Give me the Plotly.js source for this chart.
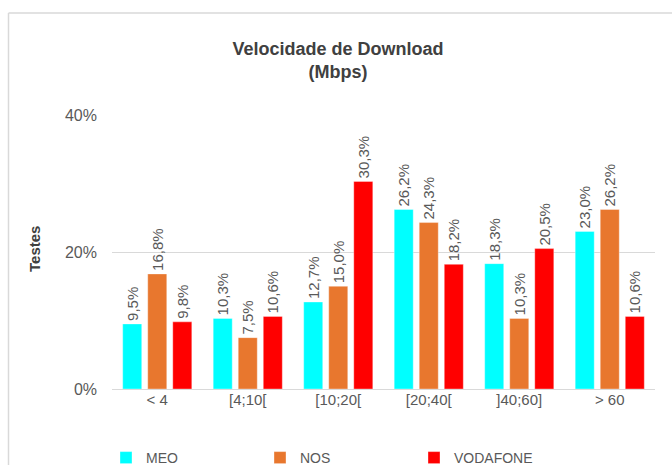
<!DOCTYPE html>
<html>
<head>
<meta charset="utf-8">
<script src="https://cdn.plot.ly/plotly-3.0.1.min.js"></script>
<style>html,body{margin:0;padding:0;background:#fff;}#chart{width:672px;height:465px;}</style>
</head>
<body>
<div id="chart"></div>
<script>
const categories = ["< 4", "[4;10[", "[10;20[", "[20;40[", "]40;60]", "> 60"];
const meo = [0.095, 0.103, 0.127, 0.262, 0.183, 0.230];
const nos = [0.168, 0.075, 0.150, 0.243, 0.103, 0.262];
const vodafone = [0.098, 0.106, 0.303, 0.182, 0.205, 0.106];
const seriesNames = ["MEO", "NOS", "VODAFONE"];
const seriesColors = ["#00FFFF", "#E8772E", "#FF0000"];
const yTicks = [0, 0.2, 0.4];

const txtColor = "#595959";
const font = "Liberation Sans, Arial, sans-serif";
const data = [meo, nos, vodafone].map((vals, i) => ({
  type: "bar",
  name: seriesNames[i],
  x: categories,
  y: vals,
  marker: {color: seriesColors[i], line: {color: "rgba(255,255,255,0.35)", width: 1}},
  texttemplate: "%{y:.1%}",
  textposition: "outside",
  textangle: -90,
  constraintext: "none",
  cliponaxis: false,
  textfont: {family: font, size: 15, color: txtColor},
  hoverinfo: "skip"
}));

// plot area in px: x 112..655, y 115..389
const px = x => (x - 112) / 543;
const py = y => (389 - y) / 274;

const layout = {
  width: 672, height: 465,
  margin: {l: 112, r: 17, t: 115, b: 76, autoexpand: false},
  paper_bgcolor: "#fff", plot_bgcolor: "#fff",
  separators: ",.",
  font: {family: font, color: txtColor},
  barmode: "group",
  bargap: 0.17,
  bargroupgap: 0.24,
  title: {
    text: "<b>Velocidade de Download<br>(Mbps)</b>",
    font: {family: font, size: 18, color: "#404040"},
    xref: "container", x: 338 / 672, xanchor: "center",
    yref: "container", y: 1 - 55 / 465, yanchor: "top"
  },
  xaxis: {
    type: "category",
    showgrid: false, showline: false, zeroline: false,
    ticks: "",
    tickfont: {family: font, size: 15, color: txtColor}
  },
  yaxis: {
    range: [0, 0.4],
    tickvals: yTicks,
    tickformat: ".0%",
    showgrid: true, gridcolor: "#d9d9d9", gridwidth: 1,
    zeroline: true, zerolinecolor: "#d9d9d9", zerolinewidth: 1,
    showline: false, ticks: "",
    ticklabelstandoff: 14,
    tickfont: {family: font, size: 16, color: txtColor}
  },
  showlegend: true,
  legend: {
    orientation: "h",
    x: px(106), xanchor: "left",
    y: py(458), yanchor: "middle",
    entrywidth: 109, entrywidthmode: "pixels",
    font: {family: font, size: 14, color: txtColor},
    bgcolor: "rgba(0,0,0,0)"
  },
  annotations: [{
    text: "<b>Testes</b>",
    xref: "paper", yref: "paper",
    x: px(34), y: py(249),
    xanchor: "center", yanchor: "middle",
    textangle: -90, showarrow: false,
    font: {family: font, size: 15, color: "#404040"}
  }],
  shapes: [
    {type: "line", xref: "paper", yref: "paper", x0: px(8.5), x1: px(8.5), y0: py(13), y1: py(470), line: {color: "#d9d9d9", width: 1.5}},
    {type: "line", xref: "paper", yref: "paper", x0: px(8.5), x1: px(680), y0: py(13), y1: py(13), line: {color: "#d9d9d9", width: 1.5}}
  ]
};

Plotly.newPlot("chart", data, layout, {displayModeBar: false, staticPlot: true});
</script>
</body>
</html>
